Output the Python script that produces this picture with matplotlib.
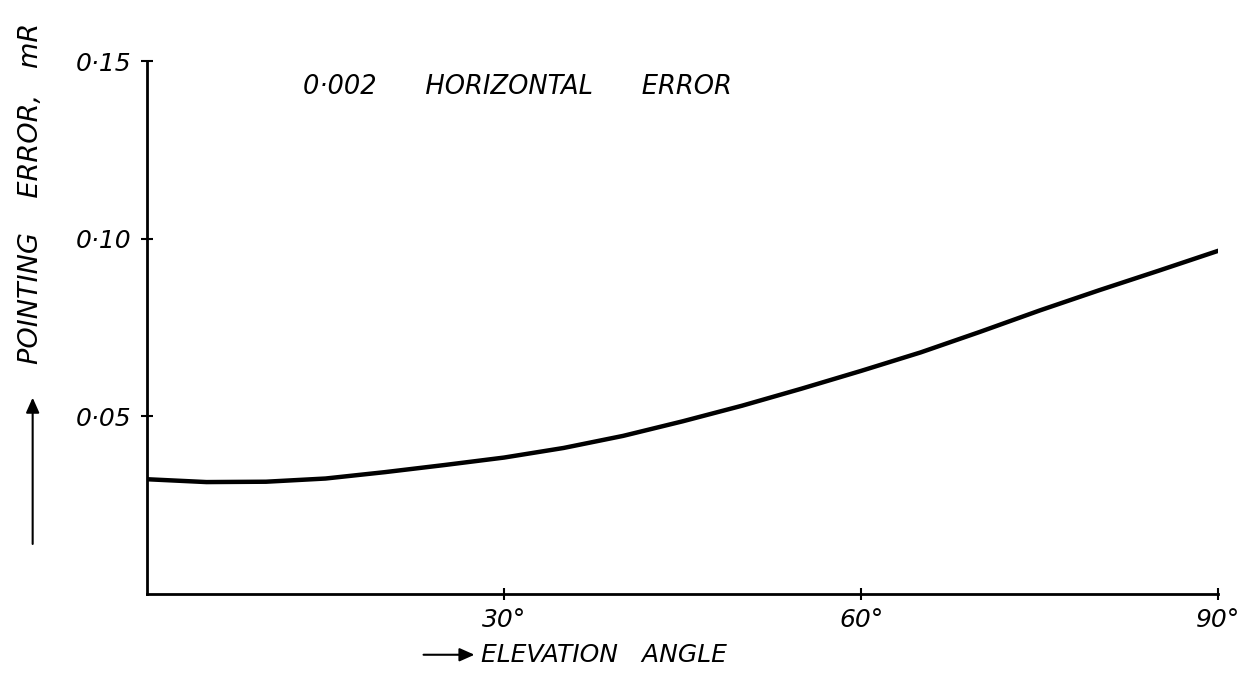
import matplotlib
matplotlib.use("Agg")
import matplotlib.pyplot as plt
from matplotlib.patches import FancyArrowPatch

# Elevation angle (degrees) and pointing error (mR)
elevation_deg = [0, 5, 10, 15, 20, 25, 30, 35, 40, 45, 50, 55, 60, 65, 70, 75, 80, 85, 90]
pointing_error = [0.0323, 0.0315, 0.0316, 0.0325, 0.0343, 0.0363, 0.0384, 0.0411, 0.0445,
                  0.0486, 0.0530, 0.0578, 0.0628, 0.0680, 0.0738, 0.0798, 0.0855, 0.0910, 0.0966]

x_ticks = [30, 60, 90]
x_tick_labels = ["30°", "60°", "90°"]
y_ticks = [0.05, 0.10, 0.15]
y_tick_labels = ["0·05", "0·10", "0·15"]

title_text = "0·002      HORIZONTAL      ERROR"
x_label = "ELEVATION   ANGLE"
y_label = "POINTING    ERROR,   mR"

hand = dict(family="DejaVu Sans", style="italic")

fig = plt.figure(figsize=(12.56, 6.75), dpi=100)
ax = fig.add_axes([0.117, 0.12, 0.853, 0.7896])

ax.plot(elevation_deg, pointing_error, color="black", lw=3.2, solid_capstyle="round")

ax.set_xlim(0, 90)
ax.set_ylim(0, 0.15)
for side in ("top", "right"):
    ax.spines[side].set_visible(False)
for side in ("left", "bottom"):
    ax.spines[side].set_linewidth(2.0)

ax.set_xticks(x_ticks)
ax.set_xticklabels(x_tick_labels, fontsize=18, **hand)
ax.set_yticks(y_ticks)
ax.set_yticklabels(y_tick_labels, fontsize=18, **hand)
ax.tick_params(axis="both", direction="inout", length=8, width=1.5)
ax.tick_params(axis="y", pad=7)
ax.tick_params(axis="x", pad=6)

ax.text(0.146, 0.951, title_text, transform=ax.transAxes, fontsize=18.5,
        ha="left", va="center", **hand)

# x-axis caption with arrow
fig.text(0.383, 0.030, x_label, fontsize=18, ha="left", va="center", **hand)
fig.patches.append(FancyArrowPatch(
    (0.335, 0.030), (0.380, 0.030), transform=fig.transFigure,
    arrowstyle="-|>,head_length=9,head_width=4", color="black", lw=1.5))

# y-axis caption with arrow
fig.text(0.025, 0.713, y_label, fontsize=19.5, rotation=90, ha="center", va="center", **hand)
fig.patches.append(FancyArrowPatch(
    (0.026, 0.19), (0.026, 0.415), transform=fig.transFigure,
    arrowstyle="-|>,head_length=9,head_width=4", color="black", lw=1.5))

fig.savefig("out.png", dpi=100, facecolor="white")
